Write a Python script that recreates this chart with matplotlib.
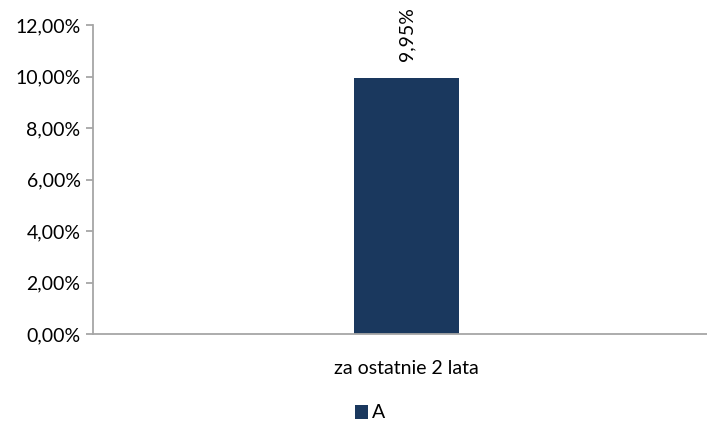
import matplotlib
matplotlib.use("Agg")
import matplotlib.pyplot as plt
from matplotlib.ticker import FuncFormatter, MultipleLocator

categories = ["za ostatnie 2 lata"]
values = [9.95]
series_name = "A"

plt.rcParams['font.family'] = ['Lato', 'DejaVu Sans']

fig = plt.figure(figsize=(7.07, 4.21), dpi=100)
# plot area runs to the right edge of the image
ax = fig.add_axes([93/707, 1-334/421, 1-93/707, (334-25)/421])

bar_color = '#1a385e'
axis_color = '#a6a6a6'
fs = 14

bars = ax.bar(categories, values, width=105/627, color=bar_color, label=series_name, zorder=2)
ax.set_xlim(-0.5, 0.5 - 13/627)
ax.set_ylim(0, 12)
ax.yaxis.set_major_locator(MultipleLocator(2))
ax.yaxis.set_major_formatter(FuncFormatter(lambda v, p: f"{v:.2f}%".replace('.', ',')))

for b, v in zip(bars, values):
    ax.annotate(f"{v:.2f}%".replace('.', ','), (b.get_x() + b.get_width()/2, v),
                xytext=(0, 17), textcoords='offset pixels',
                rotation=90, ha='center', va='bottom', fontsize=fs, color='#000000')

for s in ['top', 'right']:
    ax.spines[s].set_visible(False)
for s in ['left', 'bottom']:
    ax.spines[s].set_color(axis_color)
    ax.spines[s].set_linewidth(1.3)
ax.tick_params(axis='y', colors=axis_color, labelcolor='black', labelsize=fs, length=5, width=1.3, pad=4)
ax.tick_params(axis='x', length=0, labelsize=fs, pad=19)

leg = fig.legend(loc='center', bbox_to_anchor=(370/707, 1-413/421), frameon=False,
                 fontsize=fs, handlelength=0.7, handleheight=0.7, handletextpad=0.2)

fig.savefig("out.png", dpi=100)
